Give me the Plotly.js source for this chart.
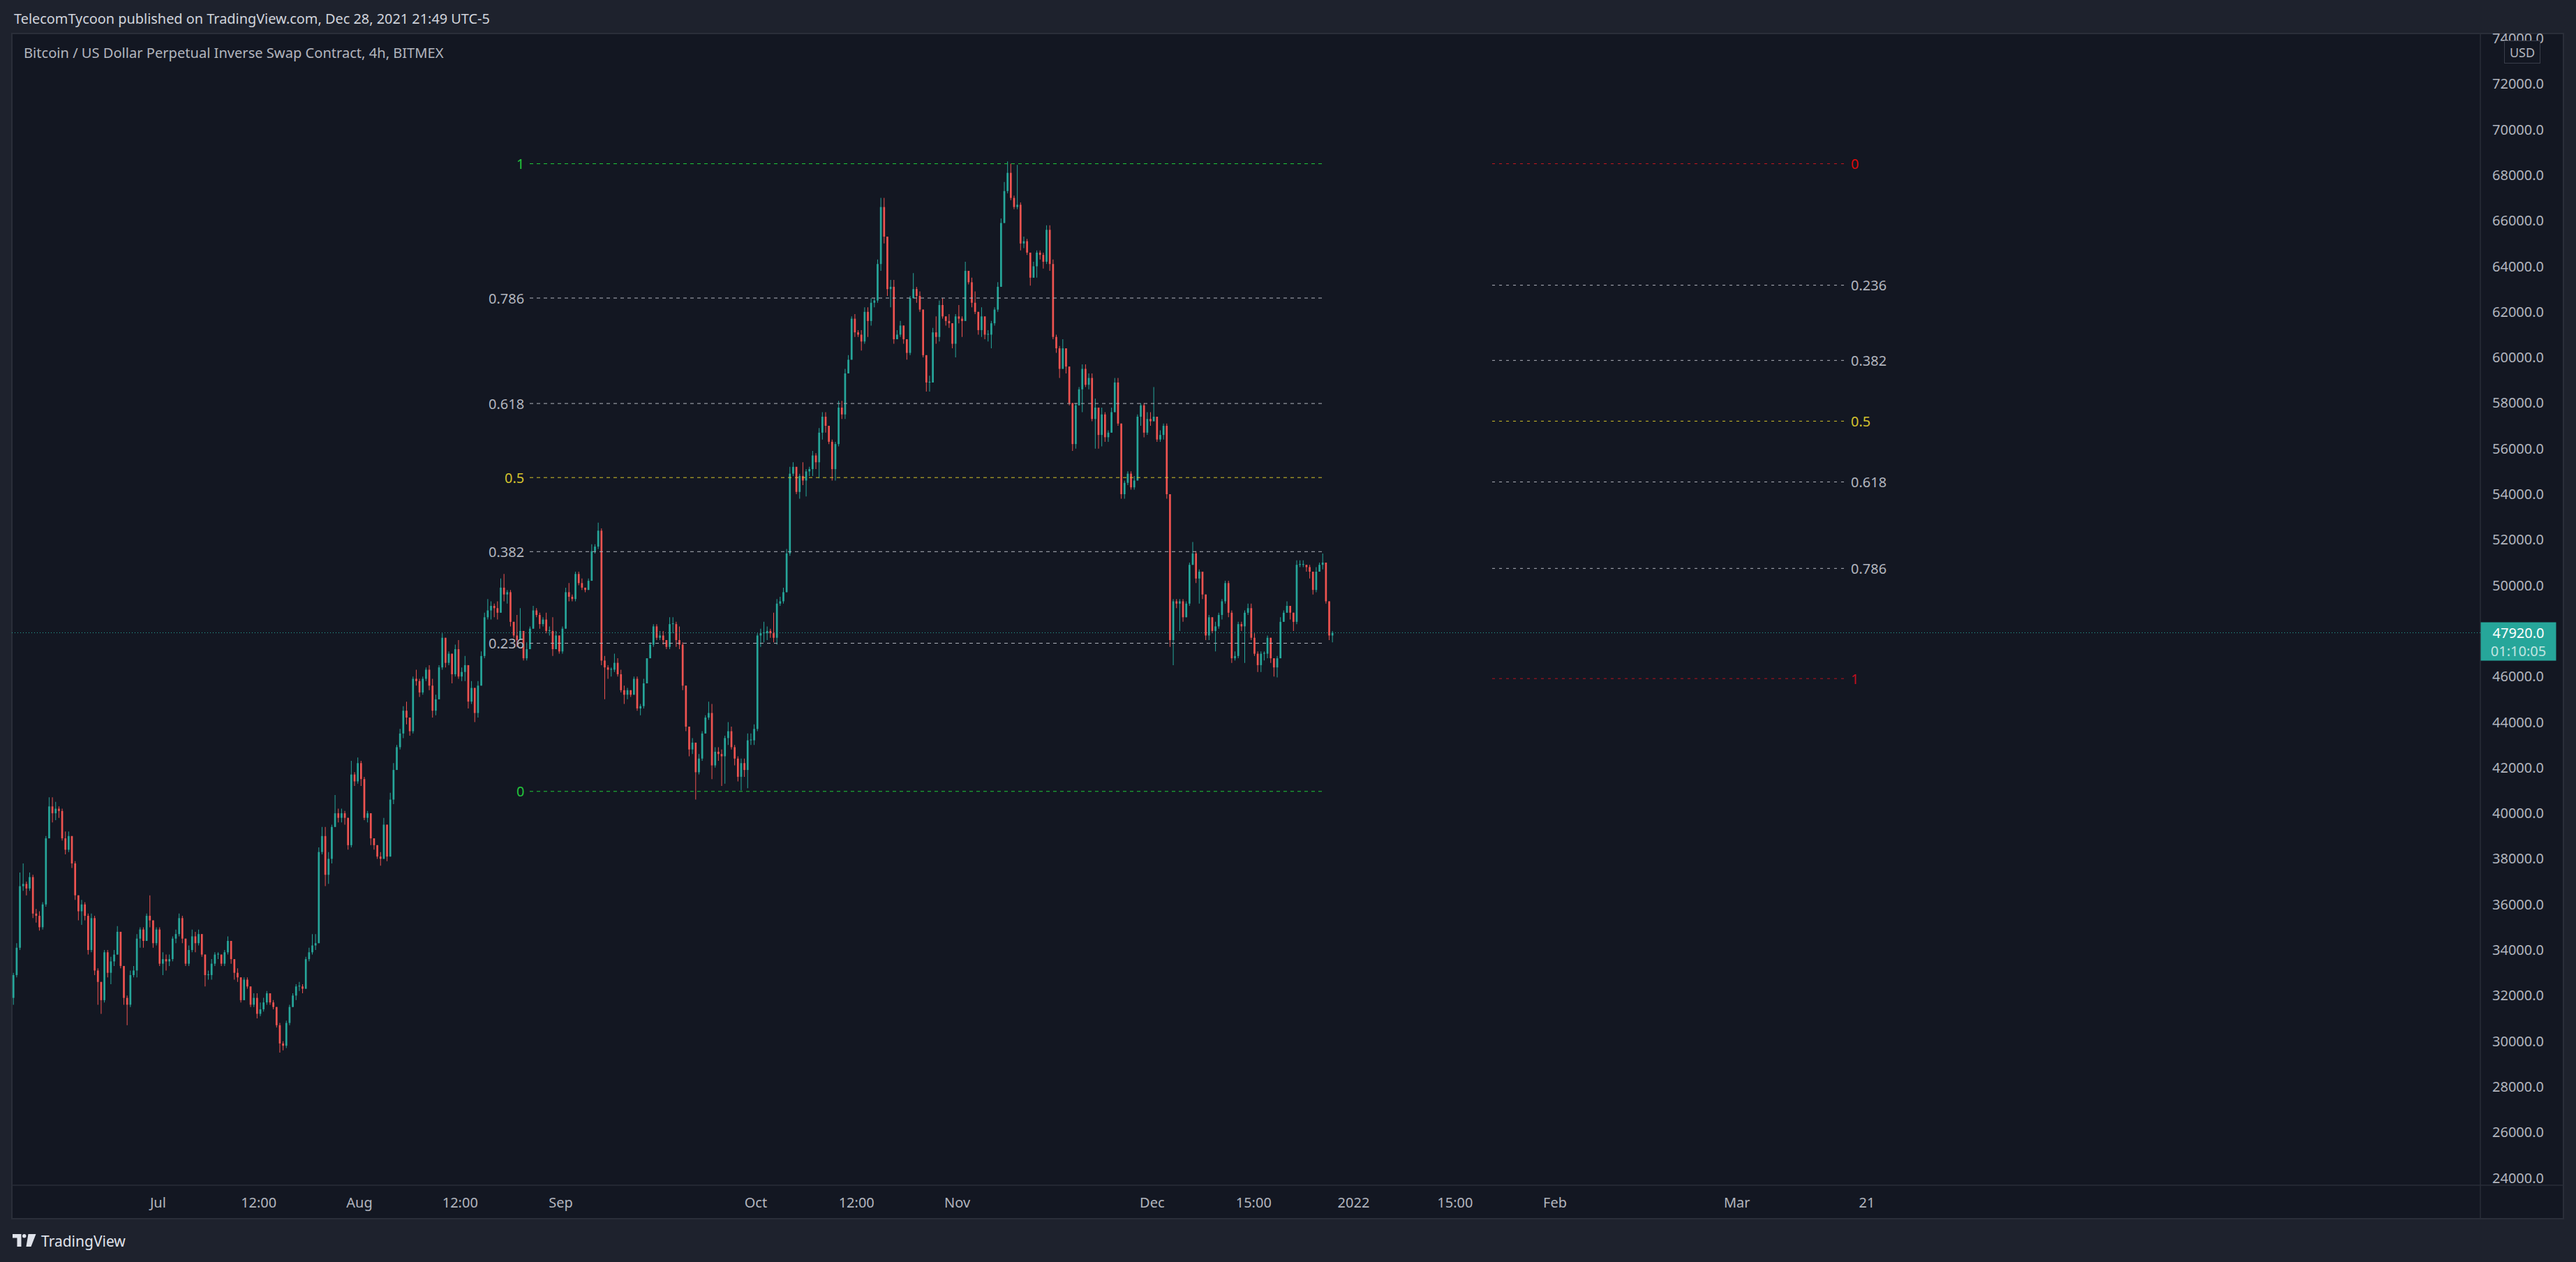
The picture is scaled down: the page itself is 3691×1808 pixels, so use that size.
<!DOCTYPE html>
<html><head><meta charset="utf-8">
<script src="https://cdn.plot.ly/plotly-3.0.1.min.js"></script>
<style>html,body{margin:0;padding:0;background:#1e222d;overflow:hidden}#chart{width:3691px;height:1808px}</style>
</head><body><div id="chart"></div>
<script>
// ---------------- DATA (prices in thousands of USD, 12h candles) ----------------
const seriesStart = "2021-06-08T12:00:00Z";
const periodHours = 12;
const firstOpenK = 31.9;
const closeK = [
32.9,34.1,36.8,36.9,36.7,37.2,35.6,35.5,35.0,36.0,
38.9,40.3,40.0,40.2,40.1,38.9,38.4,39.0,37.8,36.4,
35.7,36.0,35.5,34.0,35.4,33.1,32.6,31.8,33.9,33.0,
33.5,33.8,34.8,33.3,31.9,31.6,32.9,33.1,34.5,34.9,
34.4,35.5,35.3,34.3,34.9,33.4,33.6,33.5,33.6,34.5,
34.7,35.4,34.5,33.4,34.0,34.6,34.3,34.7,33.8,32.9,
32.9,33.4,33.8,33.8,33.4,33.9,34.4,33.6,33.0,32.8,
31.8,32.7,32.4,31.6,31.9,31.2,31.4,31.7,32.1,31.7,
31.5,30.7,29.9,29.8,30.8,31.5,32.0,32.4,32.4,32.3,
33.6,33.9,34.2,34.3,38.3,39.0,37.3,38.0,39.4,40.0,
39.8,40.0,39.8,38.6,41.7,41.4,42.2,41.5,39.8,40.0,
38.9,38.6,38.1,38.0,39.5,38.1,40.6,41.9,42.9,43.5,
44.5,44.2,43.6,45.9,45.8,45.3,45.9,46.3,45.6,44.5,
45.0,46.4,47.7,46.6,47.0,46.1,47.2,46.0,46.2,46.5,
44.9,45.5,44.4,45.6,46.9,48.6,48.9,49.1,49.0,48.8,
49.9,49.6,49.7,48.4,47.8,47.6,48.0,46.8,47.2,48.1,
48.9,48.7,48.3,48.5,48.0,48.0,47.2,47.8,47.1,48.1,
49.7,49.5,49.4,50.5,50.1,49.9,49.8,50.2,51.5,51.7,
52.4,46.7,46.4,46.3,46.3,46.6,46.1,45.4,45.2,45.4,
45.2,45.9,44.6,44.7,45.7,46.8,47.4,48.2,47.7,47.8,
47.6,47.3,48.3,48.3,47.6,47.4,45.6,43.8,42.8,43.1,
41.8,42.4,43.5,44.2,44.4,42.1,42.7,42.6,42.5,43.3,
43.6,42.9,42.4,41.6,42.2,41.9,43.2,43.2,43.7,47.8,
47.9,47.9,48.0,47.9,47.7,49.2,49.3,49.7,51.4,54.9,
55.2,54.1,54.8,54.6,55.0,55.1,55.7,55.4,56.7,57.4,
57.0,56.3,55.1,56.2,57.8,57.5,59.3,59.9,61.7,61.1,
61.0,60.7,62.0,61.6,62.4,62.5,64.1,66.6,65.3,63.0,
63.1,60.8,61.0,61.4,60.8,60.2,62.6,63.0,62.7,62.1,
60.1,58.9,58.9,61.1,60.9,62.3,61.8,61.6,61.5,60.6,
61.8,61.7,61.6,63.8,63.3,62.4,62.0,61.2,61.8,61.0,
61.0,61.5,62.1,63.1,65.9,67.3,68.1,67.0,66.6,66.7,
65.0,65.1,64.6,63.5,64.0,64.6,64.5,64.2,65.6,64.1,
60.9,60.4,59.5,60.4,59.6,58.0,56.2,57.9,58.6,59.5,
58.8,59.1,57.3,57.8,56.6,57.5,56.5,56.7,57.6,58.9,
57.1,54.0,54.5,54.9,54.3,54.6,57.4,57.9,56.7,57.3,
57.2,57.4,56.4,56.6,57.0,54.0,47.6,49.3,49.2,49.3,
48.6,49.2,50.9,51.4,50.3,50.6,49.6,47.8,48.6,48.0,
48.2,48.7,49.3,50.1,48.8,46.8,46.9,48.3,48.2,48.8,
49.0,47.7,47.0,46.5,47.0,47.0,47.7,46.8,46.4,46.8,
48.4,48.8,49.1,48.8,48.4,50.9,50.9,50.9,50.8,50.6,
49.8,50.6,50.9,51.0,49.3,47.8,47.92];
const highK = [
33.0,34.3,37.4,37.8,37.0,37.4,37.3,35.8,35.7,36.1,
39.0,40.7,40.7,40.5,40.3,40.2,39.2,39.2,39.0,37.9,
36.4,36.2,36.1,35.6,35.6,35.5,33.2,32.6,34.0,34.0,
33.7,34.0,35.05,34.8,33.3,32.0,33.1,33.3,34.7,35.0,
35.0,35.6,36.4,35.3,35.0,35.0,33.9,33.8,33.8,34.6,
34.9,35.6,35.5,34.5,34.2,34.9,34.8,34.9,34.7,33.8,
33.1,33.6,33.9,33.9,33.8,34.0,34.6,34.4,33.6,33.2,
32.8,32.8,32.8,32.4,32.1,32.1,31.7,31.9,32.2,32.1,
31.8,31.5,30.8,30.0,30.9,31.6,32.1,32.5,32.6,32.5,
33.7,34.1,34.7,34.7,38.5,39.4,39.4,38.3,39.5,40.8,
40.2,40.2,40.1,39.8,42.3,41.8,42.45,42.3,41.6,40.1,
40.0,38.9,38.6,38.3,39.8,39.5,40.9,42.2,43.0,43.7,
44.7,44.9,44.2,46.0,46.3,45.9,46.0,46.4,46.5,45.9,
45.2,46.5,47.9,47.7,47.1,47.0,47.4,47.6,46.4,46.9,
46.5,45.8,45.5,45.8,47.1,48.8,49.4,49.3,49.2,49.3,
50.3,50.5,49.8,49.8,48.4,48.7,49.0,48.0,47.5,48.2,
49.1,49.0,48.8,48.6,48.8,48.2,48.6,48.0,47.8,48.2,
49.9,50.1,49.6,50.6,50.6,50.3,49.9,50.3,51.8,51.8,
52.75,52.5,46.9,46.5,46.4,47.0,46.8,46.3,45.6,45.5,
45.4,46.0,46.0,44.8,45.9,46.8,47.5,48.3,48.3,48.0,
48.0,47.6,48.6,48.6,48.4,48.2,47.5,45.6,43.8,43.3,
43.1,42.6,43.6,44.3,44.9,44.8,42.9,42.9,42.8,43.4,
44.0,43.8,43.0,42.5,42.4,42.4,43.5,43.5,43.9,47.9,
48.1,48.4,48.2,48.1,48.8,49.4,49.5,49.9,51.6,55.2,
55.4,55.0,54.9,55.4,55.1,55.2,55.9,55.8,56.9,57.6,
57.6,57.0,56.4,56.3,58.1,58.1,59.5,60.1,61.8,61.9,
61.2,61.2,62.2,62.2,62.6,62.6,64.3,67.0,67.0,65.3,
63.4,63.4,61.2,61.6,61.4,60.8,62.7,63.7,63.1,62.9,
62.1,60.1,59.2,61.3,61.8,62.5,62.6,61.8,61.9,61.5,
61.9,62.3,61.8,64.2,63.8,63.5,62.9,62.0,62.2,61.8,
61.2,61.6,62.2,63.3,66.1,67.7,68.6,68.5,67.1,68.45,
66.8,65.3,65.2,64.6,64.2,64.7,64.7,64.6,65.8,65.8,
64.3,61.0,60.5,60.8,60.4,59.6,58.0,58.0,58.7,59.7,
59.7,59.3,59.3,58.2,57.1,57.8,57.6,56.8,57.8,59.1,
59.1,57.1,54.6,55.0,55.0,54.8,57.5,58.0,58.0,57.6,
57.6,58.7,57.4,56.8,57.1,57.1,54.0,49.4,49.4,49.4,
49.4,49.3,51.0,51.9,51.5,50.7,50.6,49.6,48.7,48.5,
48.4,48.8,49.4,50.2,50.2,48.9,47.1,48.4,48.4,48.9,
49.2,49.2,47.9,47.1,47.1,47.1,47.8,47.4,46.8,46.9,
48.6,48.9,49.3,49.0,48.6,51.1,51.1,51.1,50.9,50.9,
50.6,50.8,51.0,51.4,51.0,49.3,48.0];
const lowK = [
31.6,32.8,34.0,36.6,36.4,36.6,35.4,35.2,34.85,34.9,
35.9,38.9,39.6,39.7,39.8,38.8,38.2,38.3,37.6,36.2,
35.3,35.1,35.3,33.8,33.9,32.9,31.6,31.2,31.7,32.8,
32.5,33.3,33.8,33.2,31.6,30.7,31.5,32.8,32.8,34.1,
34.1,34.4,35.0,34.1,34.2,33.3,32.9,33.1,33.3,33.5,
34.3,34.6,34.3,33.3,33.3,33.9,33.9,34.2,33.7,32.4,
32.7,32.7,33.3,33.6,33.3,33.3,33.8,33.4,32.7,32.6,
31.7,31.8,32.3,31.5,31.5,31.0,31.1,31.3,31.6,31.6,
31.4,30.6,29.5,29.6,29.7,30.7,31.5,31.8,32.2,32.1,
32.3,33.5,33.8,34.0,34.3,38.2,36.8,36.9,37.8,39.4,
39.6,39.6,39.5,38.4,38.5,41.2,41.3,41.2,39.7,39.6,
38.6,38.4,38.0,37.7,38.0,37.9,38.1,40.4,41.9,42.8,
43.3,43.9,43.4,43.5,45.6,45.1,45.2,45.8,45.4,44.2,
44.3,45.0,46.3,46.4,46.5,45.7,46.0,45.9,45.8,45.8,
44.6,44.8,44.0,44.2,45.6,46.8,48.5,48.5,48.6,48.5,
48.8,49.3,49.2,48.2,47.7,47.3,47.6,46.7,46.7,47.2,
48.1,48.6,48.1,48.2,47.9,47.8,46.9,47.2,47.0,47.0,
48.1,49.3,49.3,49.3,50.0,49.8,49.7,49.8,50.2,51.4,
51.6,46.5,45.0,45.9,46.0,46.2,46.0,45.3,44.8,45.0,
45.1,45.2,44.5,44.3,44.6,45.7,46.8,47.3,47.6,47.6,
47.4,47.2,47.2,47.9,47.3,47.2,45.4,43.6,42.5,42.6,
40.6,41.7,42.3,43.5,44.1,41.5,42.0,42.3,41.2,41.3,
43.0,42.8,42.1,41.4,41.0,41.6,41.1,43.0,43.0,43.6,
47.3,47.5,47.6,47.7,47.5,47.4,49.1,49.2,49.7,51.3,
54.8,54.0,53.8,54.4,53.9,54.8,54.8,55.1,54.7,56.4,
56.7,56.2,54.6,54.6,56.1,57.3,57.3,59.3,59.9,60.9,
60.9,60.3,60.6,60.9,61.4,62.2,62.4,63.8,65.0,62.7,
62.2,60.6,60.8,60.9,60.6,59.9,60.1,62.6,62.4,62.0,
60.0,58.5,58.5,58.9,60.6,60.7,61.7,61.4,61.3,60.4,
60.0,61.5,60.9,61.6,63.2,62.2,61.9,61.0,60.9,60.8,
60.7,60.4,61.4,62.0,63.1,65.9,67.2,66.9,66.5,66.5,
64.7,64.8,64.5,63.15,63.5,63.5,64.3,63.9,64.1,63.8,
60.8,60.2,59.1,59.6,59.3,57.9,55.9,56.0,57.9,57.6,
58.7,58.6,57.2,56.0,56.0,56.1,56.3,56.3,56.8,57.6,
57.0,53.8,53.8,54.4,54.2,54.2,54.6,57.0,56.5,56.6,
57.0,57.2,56.3,56.3,56.4,53.8,47.3,46.5,49.0,48.0,
48.4,48.6,49.1,50.9,50.1,49.2,49.4,47.6,47.6,47.9,
47.1,48.1,48.5,49.2,48.6,46.6,46.7,46.8,48.0,46.6,
48.7,47.6,46.9,46.2,46.2,46.7,46.8,46.6,46.0,45.96,
46.9,48.4,48.8,48.5,48.0,48.3,50.8,50.8,50.6,50.3,
49.6,49.7,50.6,50.7,49.2,47.6,47.5];

const lastPriceText = "47920.0";
const countdownText = "01:10:05";
const fibLevels = [0, 0.236, 0.382, 0.5, 0.618, 0.786, 1];
const fibLabels = ["0", "0.236", "0.382", "0.5", "0.618", "0.786", "1"];
const leftFibLow = 40960, leftFibHigh = 68500;     // 0 at low, 1 at high
const rightFibHigh = 68500, rightFibLow = 45910;   // 0 at high, 1 at low
const priceTicks = [24000,26000,28000,30000,32000,34000,36000,38000,40000,42000,44000,46000,48000,50000,52000,54000,56000,58000,60000,62000,64000,66000,68000,70000,72000,74000];
const timeTickVals = ["2021-07-01","2021-07-16 12:00","2021-08-01","2021-08-16 12:00","2021-09-01","2021-10-01","2021-10-16 12:00","2021-11-01","2021-12-01","2021-12-16 15:00","2022-01-01","2022-01-16 15:00","2022-02-01","2022-03-01","2022-03-21"];
const timeTickText = ["Jul","12:00","Aug","12:00","Sep","Oct","12:00","Nov","Dec","15:00","2022","15:00","Feb","Mar","21"];
const headerText = "TelecomTycoon published on TradingView.com, Dec 28, 2021 21:49 UTC-5";
const symbolText = "Bitcoin / US Dollar Perpetual Inverse Swap Contract, 4h, BITMEX";

// ---------------- LAYOUT GEOMETRY ----------------
const W = 3691, H = 1808, PL = 17, PR = 3554, PT = 48, PB = 1698;
const pxX = v => (v - PL) / (PR - PL);
const pxY = v => (PB - v) / (PB - PT);
const FONT = "Noto Sans, Roboto, sans-serif";
const UP = "#26a69a", DOWN = "#ef5350", TXT = "#b2b5be";
const HOUR = 3600e3;
const iso = ms => new Date(ms).toISOString().slice(0, 19).replace("T", " ");

const startMs = Date.parse(seriesStart);
const xs = [], wickBase = [], wickLen = [], bodyBase = [], bodyLen = [], cols = [];
for (let i = 0; i < closeK.length; i++) {
  const o = (i === 0 ? firstOpenK : closeK[i - 1]) * 1000;
  const c = closeK[i] * 1000;
  const hi = Math.max(highK[i] * 1000, o, c);
  const lo = Math.min(lowK[i] * 1000, o, c);
  xs.push(iso(startMs + (i + 0.5) * periodHours * HOUR));
  wickBase.push(lo); wickLen.push(hi - lo);
  bodyBase.push(Math.min(o, c)); bodyLen.push(Math.max(Math.abs(c - o), 35));
  cols.push(c >= o ? UP : DOWN);
}
const lastPrice = closeK[closeK.length - 1] * 1000;

const traces = [
  {type: "bar", x: xs, base: wickBase, y: wickLen, width: 2.6 * HOUR,
   marker: {color: cols, line: {width: 0}}, hoverinfo: "skip", showlegend: false},
  {type: "bar", x: xs, base: bodyBase, y: bodyLen, width: 7.0 * HOUR,
   marker: {color: cols, line: {width: 0}}, hoverinfo: "skip", showlegend: false}
];

const shapes = [];
const annotations = [];
// axis areas + frame
shapes.push({type: "rect", xref: "paper", yref: "paper", x0: 1, x1: pxX(3673), y0: pxY(1746), y1: 1, fillcolor: "#131722", line: {width: 0}, layer: "below"});
shapes.push({type: "rect", xref: "paper", yref: "paper", x0: 0, x1: pxX(3673), y0: pxY(1746), y1: 0, fillcolor: "#131722", line: {width: 0}, layer: "below"});
shapes.push({type: "rect", xref: "paper", yref: "paper", x0: pxX(17), x1: pxX(3673), y0: pxY(1746), y1: pxY(48), line: {color: "#2a2e39", width: 2}, fillcolor: "rgba(0,0,0,0)", layer: "below"});
shapes.push({type: "line", xref: "paper", yref: "paper", x0: 1, x1: 1, y0: pxY(1746), y1: 1, line: {color: "#2a2e39", width: 1.5}, layer: "below"});
shapes.push({type: "line", xref: "paper", yref: "paper", x0: 0, x1: pxX(3673), y0: 0, y1: 0, line: {color: "#2a2e39", width: 1.5}, layer: "below"});
// current price dotted line
shapes.push({type: "line", xref: "paper", yref: "y", x0: 0, x1: 1, y0: lastPrice, y1: lastPrice, line: {color: UP, width: 1, dash: "1px,3px"}});

// fib retracements
const leftStart = "2021-08-27 05:00", leftEnd = "2021-12-27 10:30";
const rightStart = "2022-01-22 08:00", rightEnd = "2022-03-17 19:00";
const leftLineCol = ["#1fcc3a", "#b2b5be", "#b2b5be", "#d6c52a", "#b2b5be", "#b2b5be", "#1fcc3a"];
const leftTextCol = ["#22c53b", TXT, TXT, "#d4c22e", TXT, TXT, "#22c53b"];
const rightLineCol = ["#c8161e", "#b2b5be", "#b2b5be", "#d6c52a", "#b2b5be", "#b2b5be", "#b8141f"];
const rightTextCol = ["#dd0a0a", TXT, TXT, "#d4c22e", TXT, TXT, "#c40f20"];
fibLevels.forEach((lv, i) => {
  const vL = leftFibLow + lv * (leftFibHigh - leftFibLow);
  shapes.push({type: "line", xref: "x", yref: "y", x0: leftStart, x1: leftEnd, y0: vL, y1: vL, line: {color: leftLineCol[i], width: 1, dash: "5px,5px"}});
  annotations.push({xref: "x", yref: "y", x: leftStart, y: vL, text: fibLabels[i], showarrow: false, xanchor: "right", yanchor: "middle", xshift: -6, font: {family: FONT, size: 20, color: leftTextCol[i]}});
  const vR = rightFibHigh - lv * (rightFibHigh - rightFibLow);
  shapes.push({type: "line", xref: "x", yref: "y", x0: rightStart, x1: rightEnd, y0: vR, y1: vR, line: {color: rightLineCol[i], width: 1, dash: "4px,6px"}});
  annotations.push({xref: "x", yref: "y", x: rightEnd, y: vR, text: fibLabels[i], showarrow: false, xanchor: "left", yanchor: "middle", xshift: 5, font: {family: FONT, size: 20, color: rightTextCol[i]}});
});

// header & symbol title
annotations.push({xref: "paper", yref: "paper", x: pxX(18), y: pxY(26.5), text: headerText, showarrow: false, xanchor: "left", yanchor: "middle", font: {family: FONT, size: 19.9, color: "#d1d4dc"}});
annotations.push({xref: "paper", yref: "paper", x: pxX(32), y: pxY(75.5), text: symbolText, showarrow: false, xanchor: "left", yanchor: "middle", font: {family: FONT, size: 20.1, color: TXT}});
// USD badge
annotations.push({xref: "paper", yref: "paper", x: pxX(3613.5), y: pxY(75), text: "USD", showarrow: false, xanchor: "center", yanchor: "middle", width: 48, height: 29, bgcolor: "#131722", bordercolor: "#3a3e4a", borderwidth: 1, font: {family: FONT, size: 18, color: TXT}});
// last price badge
annotations.push({xref: "paper", yref: "y", x: pxX(3608.5), y: lastPrice, yshift: -12.5, text: lastPriceText + "<br><span style='color:rgba(255,255,255,0.72)'>" + countdownText + "</span>", showarrow: false, xanchor: "center", yanchor: "middle", width: 107, height: 54, bgcolor: UP, borderpad: 0, font: {family: FONT, size: 20, color: "#ffffff"}});
// TradingView footer logo
const poly = pts => "M " + pts.map(p => pxX(p[0]) + "," + pxY(p[1])).join(" L ") + " Z";
const LOGO = "#e0e3eb";
shapes.push({type: "path", xref: "paper", yref: "paper", path: poly([[18,1768],[30.5,1768],[30.5,1786],[24.5,1786],[24.5,1773.5],[18,1773.5]]), fillcolor: LOGO, line: {width: 0}, layer: "below"});
shapes.push({type: "circle", xref: "paper", yref: "paper", x0: pxX(32), x1: pxX(37.5), y0: pxY(1773.5), y1: pxY(1768), fillcolor: LOGO, line: {width: 0}, layer: "below"});
shapes.push({type: "path", xref: "paper", yref: "paper", path: poly([[40.5,1768],[51.5,1768],[44.5,1786],[37.5,1786]]), fillcolor: LOGO, line: {width: 0}, layer: "below"});
annotations.push({xref: "paper", yref: "paper", x: pxX(57), y: pxY(1778), text: "TradingView", showarrow: false, xanchor: "left", yanchor: "middle", font: {family: FONT, size: 21, color: LOGO}});

const layout = {
  width: W, height: H,
  margin: {l: PL, r: W - PR, t: PT, b: H - PB, pad: 0},
  paper_bgcolor: "#1e222d", plot_bgcolor: "#131722",
  barmode: "overlay", showlegend: false, dragmode: false,
  font: {family: FONT, color: TXT},
  xaxis: {type: "date", range: [iso(Date.UTC(2021,6,1) - 22.49 * 24 * HOUR), iso(Date.UTC(2021,6,1) + 357.42 * 24 * HOUR)],
    showgrid: false, zeroline: false, showline: false, ticks: "",
    tickmode: "array", tickvals: timeTickVals, ticktext: timeTickText,
    tickfont: {family: FONT, size: 20, color: TXT}, ticklabelstandoff: 11, fixedrange: true},
  yaxis: {side: "right", range: [23680, 74214], showgrid: false, zeroline: false, showline: false, ticks: "",
    tickmode: "array", tickvals: priceTicks, ticktext: priceTicks.map(v => v.toFixed(1)),
    tickfont: {family: FONT, size: 20, color: TXT}, ticklabelstandoff: 16, fixedrange: true},
  shapes: shapes, annotations: annotations
};
Plotly.newPlot("chart", traces, layout, {displayModeBar: false, staticPlot: true});
</script></body></html>
